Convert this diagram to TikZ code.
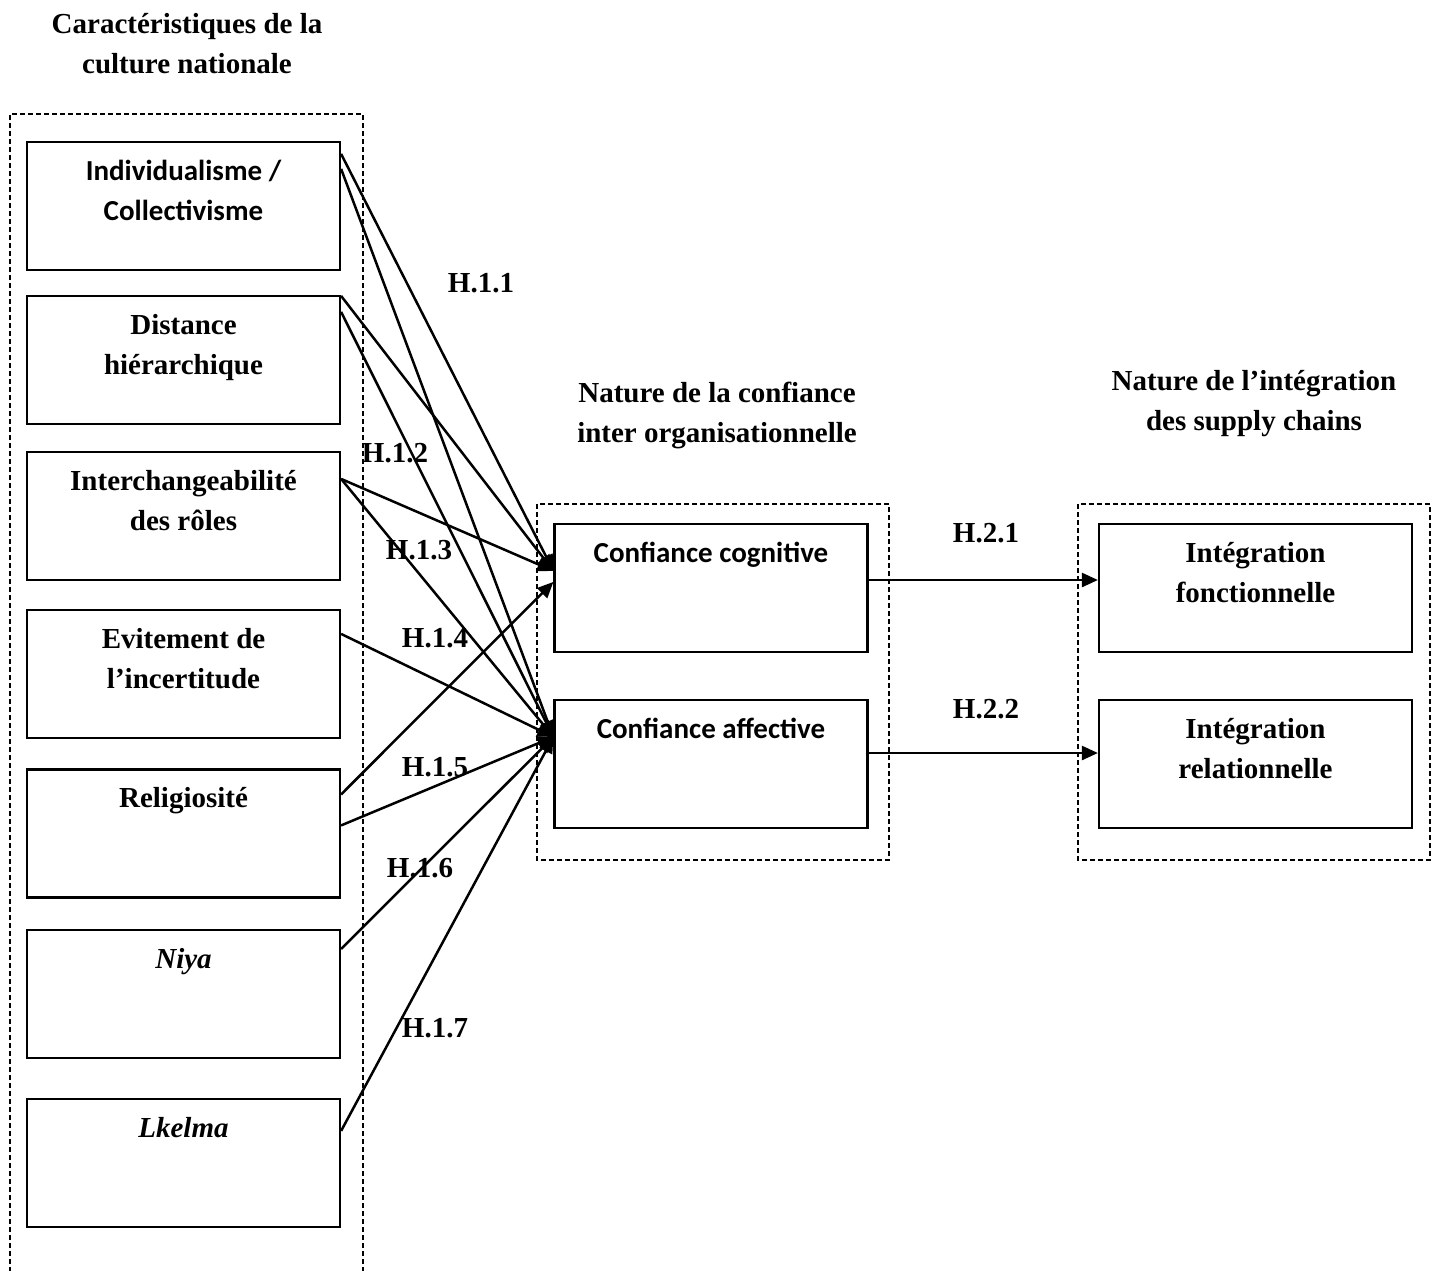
\documentclass[tikz,border=0pt]{standalone}
\usepackage{fontspec}
\setmainfont{Liberation Serif}
\newfontfamily\calibri{Carlito}
\usepackage{tikz}
\usetikzlibrary{arrows.meta,positioning}
\tikzstyle{caja}=[draw, line width=1.1pt, minimum width=156.5pt, minimum height=64pt, inner sep=0pt]
\tikzstyle{cadre}=[line width=0.85pt, dash pattern=on 2.5pt off 1.5pt]
\tikzstyle{txt}=[inner sep=0pt, align=center, font=\fontsize{14.5pt}{20pt}\selectfont\bfseries]
\tikzstyle{sans}=[inner sep=0pt, align=center, font=\calibri\fontsize{14.5pt}{20pt}\selectfont\bfseries]
\tikzstyle{hyp}=[-{Triangle[length=8pt,width=7pt]}, line width=1.25pt]

\begin{document}
\begin{tikzpicture}[x=0.5pt, y=-0.5pt]
	\useasboundingbox (0,0) rectangle (1439,1270);
	% titres
	\node[txt, anchor=north] (t1) at (187,5) {\strut Caractéristiques de la\\culture nationale};
	\node[txt, anchor=north] (t2) at (717,374) {\strut Nature de la confiance\\inter organisationnelle};
	\node[txt, anchor=north] (t3) at (1254,362) {\strut Nature de l’intégration\\des supply chains};
	% cadres
	\draw[cadre] (10,1280) -- (10,114) -- (363,114) -- (363,1280);
	\draw[cadre] (537,504) rectangle (889,860);
	\draw[cadre] (1078,504) rectangle (1430,860);
	% culture nationale
	\node[caja] (ind) at (183.5,206) {};
	\node[caja] (dist) at (183.5,360) {};
	\node[caja] (inter) at (183.5,516) {};
	\node[caja] (evit) at (183.5,674) {};
	\node[caja] (relig) at (183.5,833.5) {};
	\node[caja] (niya) at (183.5,994) {};
	\node[caja] (lkel) at (183.5,1163) {};
	\node[sans, below=5.5pt of ind.north] {\strut Individualisme /\\Collectivisme};
	\node[txt, below=5.5pt of dist.north] {\strut Distance\\hiérarchique};
	\node[txt, below=5.5pt of inter.north] {\strut Interchangeabilité\\des rôles};
	\node[txt, below=5.5pt of evit.north] {\strut Evitement de\\l’incertitude};
	\node[txt, below=5.5pt of relig.north] {\strut Religiosité};
	\node[txt, below=5.5pt of niya.north] {\itshape\strut Niya};
	\node[txt, below=5.5pt of lkel.north] {\itshape\strut Lkelma};
	% confiance
	\node[caja] (cogn) at (711,588) {};
	\node[caja] (affe) at (711,764) {};
	\node[sans, below=5.5pt of cogn.north] {\strut Confiance cognitive};
	\node[sans, below=5.5pt of affe.north] {\strut Confiance affective};
	% integration
	\node[caja] (fonc) at (1255.5,588) {};
	\node[caja] (rela) at (1255.5,764) {};
	\node[txt, below=5.5pt of fonc.north] {\strut Intégration\\fonctionnelle};
	\node[txt, below=5.5pt of rela.north] {\strut Intégration\\relationnelle};
	% hypotheses H.1
	\draw[hyp] ([yshift=-6.5pt]ind.north east) -- ([yshift=-24pt]cogn.north west);
	\draw[hyp] ([yshift=-14pt]ind.north east) -- ([yshift=-19pt]affe.north west);
	\draw[hyp] ([yshift=-0.5pt]dist.north east) -- ([yshift=-24pt]cogn.north west);
	\draw[hyp] ([yshift=-8.5pt]dist.north east) -- ([yshift=-19pt]affe.north west);
	\draw[hyp] ([yshift=-14pt]inter.north east) -- ([yshift=-24pt]cogn.north west);
	\draw[hyp] ([yshift=-14pt]inter.north east) -- ([yshift=-19pt]affe.north west);
	\draw[hyp] ([yshift=-12.5pt]evit.north east) -- ([yshift=-19pt]affe.north west);
	\draw[hyp] ([yshift=-13pt]relig.north east) -- ([yshift=-29.5pt]cogn.north west);
	\draw[hyp] ([yshift=-28.5pt]relig.north east) -- ([yshift=-19pt]affe.north west);
	\draw[hyp] ([yshift=-10pt]niya.north east) -- ([yshift=-19pt]affe.north west);
	\draw[hyp] ([yshift=-16.5pt]lkel.north east) -- ([yshift=-19pt]affe.north west);
	% hypotheses H.2
	\draw[hyp] ([yshift=4pt]cogn.east) -- ([yshift=4pt]fonc.west);
	\draw[hyp] ([yshift=5.5pt]affe.east) -- ([yshift=5.5pt]rela.west);
	% libelles
	\node[txt] (h11) at (481,283) {H.1.1};
	\node[txt] (h12) at (395,453) {H.1.2};
	\node[txt] (h13) at (419,550) {H.1.3};
	\node[txt] (h14) at (435,638) {H.1.4};
	\node[txt] (h15) at (435,767) {H.1.5};
	\node[txt] (h16) at (420,868) {H.1.6};
	\node[txt] (h17) at (435,1028) {H.1.7};
	\node[txt] (h21) at (986,533) {H.2.1};
	\node[txt] (h22) at (986,709) {H.2.2};
\end{tikzpicture}
\end{document}
